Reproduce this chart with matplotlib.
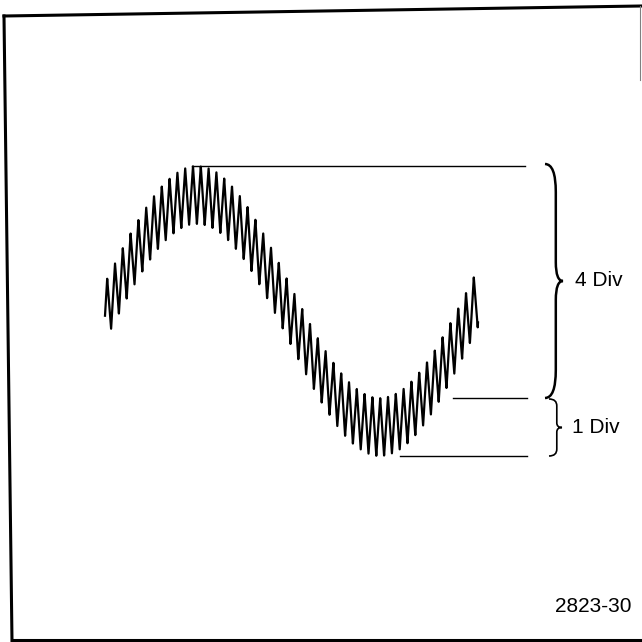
import numpy as np
import matplotlib
matplotlib.use("Agg")
import matplotlib.pyplot as plt
from matplotlib.path import Path
from matplotlib.patches import PathPatch

# scope trace, screen measured in divisions
div_px = 58.0          # pixels per division
sine_pp_div = 4        # low frequency signal, peak to peak
ripple_pp_div = 1      # superimposed ripple, peak to peak
sine_period_px = 366
ripple_period_px = 7.8
trace_start, trace_end = 105, 478
peak_x = 197
ripple_top_x = 193
mid_y = 311

brace_labels = ["4 Div", "1 Div"]
figure_id = "2823-30"

fig = plt.figure(figsize=(6.42, 6.42), dpi=100)
ax = fig.add_axes([0, 0, 1, 1])
ax.set_xlim(0, 642)
ax.set_ylim(642, 0)
ax.axis("off")

# the trace: sine plus a pointed (triangle-like) ripple
x = np.linspace(trace_start, trace_end, 8000)
A = sine_pp_div / 2 * div_px
r = ripple_pp_div / 2 * div_px
ph = 2 * np.pi * (x - ripple_top_x) / ripple_period_px
ripple = 2 / np.pi * np.arcsin(np.cos(ph))
y = mid_y - A * np.cos(2 * np.pi * (x - peak_x) / sine_period_px) - r * ripple
ax.plot(x, y, color="black", lw=1.6)

# measurement levels
top = mid_y - A - r
mid = mid_y + A - r
bot = mid_y + A + r
ax.plot([192, 525], [top, top], color="black", lw=1.0)
ax.plot([453, 527], [mid, mid], color="black", lw=1.0)
ax.plot([400, 527], [bot, bot], color="black", lw=1.0)


def brace(x0, y0, y1, w, lw):
    ym = (y0 + y1) / 2
    h = y1 - y0
    xb = x0 + w * 0.6
    verts = [(x0, y0), (xb, y0), (xb, y0 + h * 0.12),
             (xb, ym - h * 0.08),
             (xb, ym), (x0 + w, ym),
             (xb, ym), (xb, ym + h * 0.08),
             (xb, y1 - h * 0.12),
             (xb, y1), (x0, y1)]
    codes = [Path.MOVETO, Path.CURVE3, Path.CURVE3, Path.LINETO,
             Path.CURVE3, Path.CURVE3, Path.CURVE3, Path.CURVE3,
             Path.LINETO, Path.CURVE3, Path.CURVE3]
    ax.add_patch(PathPatch(Path(verts, codes), fill=False, lw=lw, color="black"))
    return ym


ym1 = brace(545, top - 2, mid, 18, 1.8)
ym2 = brace(549, mid + 1, bot, 13, 1.2)
ax.text(575, ym1, brace_labels[0], va="center", ha="left",
        fontsize=15, family="Liberation Sans")
ax.text(572, ym2, brace_labels[1], va="center", ha="left",
        fontsize=15, family="Liberation Sans")
ax.text(632, 607, figure_id, va="center", ha="right",
        fontsize=15, family="Liberation Sans")

# scanned border, slightly skewed
ax.plot([4, 641], [16, 6], color="black", lw=2.2, clip_on=False)
ax.plot([4, 12], [16, 641], color="black", lw=2.2, clip_on=False)
ax.plot([12, 642], [640, 640], color="black", lw=2.2, clip_on=False)
ax.plot([640, 640], [6, 80], color="gray", lw=0.8, clip_on=False)

fig.savefig("out.png", dpi=100)
